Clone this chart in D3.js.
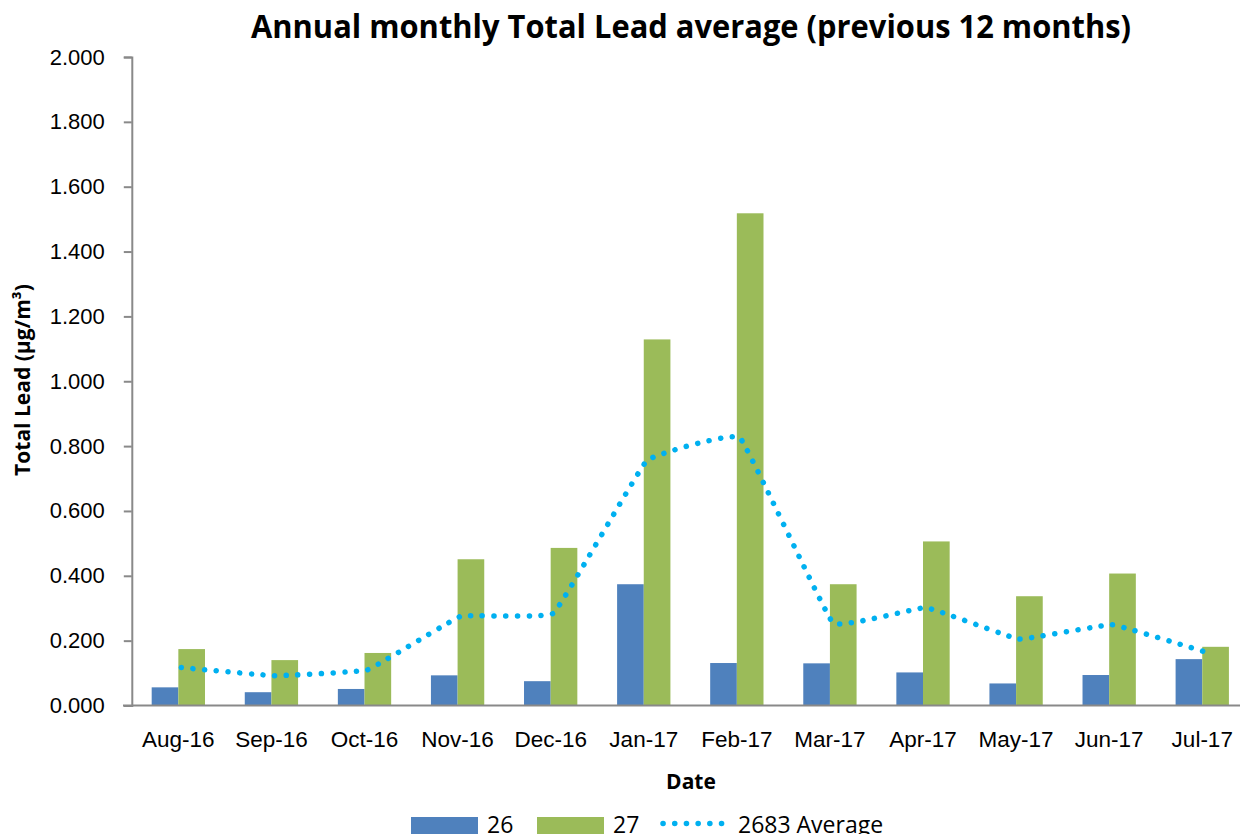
<!DOCTYPE html>
<html>
<head>
<meta charset="utf-8">
<script src="https://cdn.jsdelivr.net/npm/d3@7"></script>
<style>
	body { margin: 0; background: #fff; }
	svg { display: block; font-family: 'Open Sans', sans-serif; }
</style>
</head>
<body>
<div id="chart"></div>
<script>
const months = ['Aug-16', 'Sep-16', 'Oct-16', 'Nov-16', 'Dec-16', 'Jan-17',
	'Feb-17', 'Mar-17', 'Apr-17', 'May-17', 'Jun-17', 'Jul-17'];
const site26 = [0.056, 0.041, 0.051, 0.093, 0.075, 0.374, 0.131, 0.130, 0.102, 0.068, 0.094, 0.143];
const site27 = [0.174, 0.140, 0.162, 0.451, 0.486, 1.129, 1.518, 0.374, 0.506, 0.337, 0.407, 0.181];
const average2683 = [0.117, 0.092, 0.110, 0.275, 0.285, 0.755, 0.826, 0.255, 0.302, 0.205, 0.249, 0.165];
const yTicks = [0, 0.2, 0.4, 0.6, 0.8, 1.0, 1.2, 1.4, 1.6, 1.8, 2.0];
const seriesNames = ['26', '27'];

const widthSvg = 1240;
const heightSvg = 834;
const blue = '#4f81bd';
const green = '#9bbb59';
const lineBlue = '#00b0f0';
const axisGray = '#898989';

const svg = d3.select('#chart').append('svg')
	.attr('width', widthSvg)
	.attr('height', heightSvg);

let xScale = d3.scaleBand()
	.domain(months)
	.range([131.8, 1248.8])
	.padding(0);

let seriesScale = d3.scaleBand()
	.domain(seriesNames)
	.range([0, xScale.bandwidth()])
	.paddingOuter(0.746)
	.paddingInner(0);

let yScale = d3.scaleLinear()
	.domain([0, 2])
	.range([705.5, 57]);

// bars
const barGroups = [site26, site27];
const barColors = [blue, green];
barGroups.forEach((values, s) => {
	svg.append('g').selectAll('rect')
		.data(values)
		.enter().append('rect')
		.attr('x', (v, i) => xScale(months[i]) + seriesScale(seriesNames[s]))
		.attr('width', seriesScale.bandwidth())
		.attr('y', v => yScale(v))
		.attr('height', v => yScale(0) - yScale(v))
		.style('fill', barColors[s]);
});

// average line (smoothed, dotted)
const line = d3.line()
	.x((v, i) => xScale(months[i]) + xScale.bandwidth() / 2 + 3)
	.y(v => yScale(v))
	.curve(d3.curveCardinal.tension(0.78));

svg.append('path')
	.datum(average2683)
	.attr('d', line)
	.style('fill', 'none')
	.style('stroke', lineBlue)
	.style('stroke-width', 5.5)
	.style('stroke-linecap', 'round')
	.style('stroke-dasharray', '0.1 11.6');

// y axis
let yAxis = d3.axisLeft(yScale)
	.tickValues(yTicks)
	.tickFormat(d3.format('.3f'))
	.tickSize(8)
	.tickPadding(19);

const yAxisG = svg.append('g')
	.attr('transform', 'translate(131.8,0)')
	.call(yAxis);
yAxisG.select('.domain').attr('stroke', axisGray).attr('stroke-width', 2);
yAxisG.selectAll('.tick line').attr('stroke', axisGray).attr('stroke-width', 2);
yAxisG.selectAll('.tick text')
	.style('font-size', '22px')
	.style('fill', '#000');

// x axis
let xAxis = d3.axisBottom(xScale)
	.tickSize(0)
	.tickPadding(26);

const xAxisG = svg.append('g')
	.attr('transform', `translate(0,${yScale(0)})`)
	.call(xAxis);
xAxisG.select('.domain').remove();
xAxisG.selectAll('.tick text')
	.style('font-size', '22.5px')
	.style('fill', '#000');
svg.append('line')
	.attr('x1', 123)
	.attr('x2', widthSvg)
	.attr('y1', yScale(0))
	.attr('y2', yScale(0))
	.attr('stroke', axisGray)
	.attr('stroke-width', 2);

// titles
const title = svg.append('text')
	.attr('x', 691)
	.attr('y', 38)
	.attr('text-anchor', 'middle')
	.style('font-size', '32px')
	.style('font-weight', 'bold')
	.text('Annual monthly Total Lead average (previous 12 months)');
if (title.node().getComputedTextLength() > 880) {
	title.attr('textLength', 880).attr('lengthAdjust', 'spacingAndGlyphs');
}

svg.append('text')
	.attr('x', 691)
	.attr('y', 789)
	.attr('text-anchor', 'middle')
	.style('font-size', '21px')
	.style('font-weight', 'bold')
	.text('Date');

svg.append('text')
	.attr('transform', 'translate(30,380) rotate(-90)')
	.attr('text-anchor', 'middle')
	.style('font-size', '21px')
	.style('font-weight', 'bold')
	.text('Total Lead (µg/m³)');

// legend
const legend = svg.append('g');
const legendItems = [
	{name: '26', color: blue, x: 411},
	{name: '27', color: green, x: 537}
];
legendItems.forEach(item => {
	legend.append('rect')
		.attr('x', item.x)
		.attr('y', 817)
		.attr('width', 67)
		.attr('height', 18)
		.style('fill', item.color);
	legend.append('text')
		.attr('x', item.x + 76)
		.attr('y', 833)
		.style('font-size', '23px')
		.text(item.name);
});
legend.append('line')
	.attr('x1', 663)
	.attr('x2', 722)
	.attr('y1', 823.5)
	.attr('y2', 823.5)
	.style('stroke', lineBlue)
	.style('stroke-width', 5.5)
	.style('stroke-linecap', 'round')
	.style('stroke-dasharray', '0.1 11.6');
legend.append('text')
	.attr('x', 738)
	.attr('y', 833)
	.style('font-size', '23px')
	.text('2683 Average');
</script>
</body>
</html>
